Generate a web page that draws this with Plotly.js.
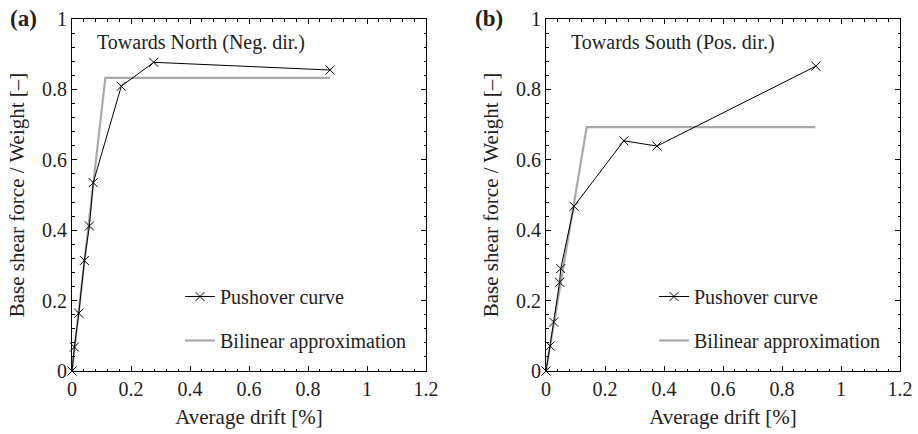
<!DOCTYPE html>
<html>
<head>
<meta charset="utf-8">
<script src="https://cdn.plot.ly/plotly-3.0.1.min.js"></script>
<style>
  html, body { margin: 0; padding: 0; background: #fff; }
  #chart { width: 918px; height: 434px; }
</style>
</head>
<body>
<div id="chart"></div>
<script>
// Pushover curve, towards North (negative direction)
const northDrift = [0, 0.008, 0.023, 0.042, 0.059, 0.072, 0.167, 0.277, 0.875];
const northShear = [0, 0.068, 0.164, 0.314, 0.412, 0.535, 0.809, 0.877, 0.855];
// Bilinear approximation, North
const northBiDrift = [0, 0.113, 0.875];
const northBiShear = [0, 0.833, 0.833];

// Pushover curve, towards South (positive direction)
const southDrift = [0, 0.014, 0.026, 0.046, 0.050, 0.095, 0.264, 0.376, 0.915];
const southShear = [0, 0.071, 0.139, 0.252, 0.291, 0.468, 0.654, 0.639, 0.866];
// Bilinear approximation, South
const southBiDrift = [0, 0.138, 0.913];
const southBiShear = [0, 0.693, 0.693];

const xTickVals = [0, 0.2, 0.4, 0.6, 0.8, 1, 1.2];
const yTickVals = [0, 0.2, 0.4, 0.6, 0.8, 1];

const FONT = 'Liberation Serif';
const GRAY = '#a9a9a9';

function pushTrace(x, y, xa, ya, lg) {
  return {
    x: x, y: y, xaxis: xa, yaxis: ya, type: 'scatter', mode: 'lines+markers',
    name: 'Pushover curve', legend: lg, legendgroup: 'p', legendrank: 1,
    line: { color: '#000', width: 1 },
    marker: { symbol: 'x-thin-open', size: 9, color: '#000', line: { color: '#000', width: 1 } },
    cliponaxis: false
  };
}
function biTrace(x, y, xa, ya, lg) {
  return {
    x: x, y: y, xaxis: xa, yaxis: ya, type: 'scatter', mode: 'lines',
    name: 'Bilinear approximation', legend: lg, legendgroup: 'b', legendrank: 2,
    line: { color: GRAY, width: 2.2 }
  };
}

// bilinear lines first so the pushover curve sits on top
const traces = [
  biTrace(northBiDrift, northBiShear, 'x', 'y', 'legend'),
  pushTrace(northDrift, northShear, 'x', 'y', 'legend'),
  biTrace(southBiDrift, southBiShear, 'x2', 'y2', 'legend2'),
  pushTrace(southDrift, southShear, 'x2', 'y2', 'legend2')
];

function xAxis(domain, anchor) {
  return {
    domain: domain, anchor: anchor, range: [0, 1.2],
    tickvals: xTickVals, ticks: 'inside', ticklen: 5, tickwidth: 1, tickcolor: '#000',
    minor: { dtick: 0.04, tick0: 0, ticks: 'inside', ticklen: 2.5, tickcolor: '#000', tickwidth: 1 },
    showline: true, linecolor: '#000', linewidth: 1, mirror: 'ticks',
    showgrid: false, zeroline: false,
    tickfont: { family: FONT, size: 20, color: '#222' },
    title: { text: 'Average drift [%]', font: { family: FONT, size: 21, color: '#222' }, standoff: 10 }
  };
}
function yAxis(domain, anchor) {
  return {
    domain: domain, anchor: anchor, range: [0, 1],
    tickvals: yTickVals, ticks: 'inside', ticklen: 5, tickwidth: 1, tickcolor: '#000',
    minor: { dtick: 0.04, tick0: 0, ticks: 'inside', ticklen: 2.5, tickcolor: '#000', tickwidth: 1 },
    showline: true, linecolor: '#000', linewidth: 1, mirror: 'ticks',
    showgrid: false, zeroline: false,
    tickfont: { family: FONT, size: 20, color: '#222' },
    title: { text: 'Base shear force / Weight [–]', font: { family: FONT, size: 21, color: '#222' }, standoff: 11 }
  };
}

const yDom = [63 / 434, 415 / 434];

function legendBox(x) {
  return {
    x: x, y: 1 - 277 / 434, xanchor: 'left', yanchor: 'top',
    bgcolor: 'rgba(0,0,0,0)', borderwidth: 0,
    font: { family: FONT, size: 20, color: '#222' },
    tracegroupgap: 15, traceorder: 'grouped', itemwidth: 30
  };
}

const layout = {
  width: 918, height: 434,
  margin: { l: 0, r: 0, t: 0, b: 0 },
  paper_bgcolor: '#fff', plot_bgcolor: '#fff',
  showlegend: true,
  font: { family: FONT },
  xaxis: xAxis([72 / 918, 426 / 918], 'y'),
  yaxis: yAxis(yDom, 'x'),
  xaxis2: xAxis([546 / 918, 900 / 918], 'y2'),
  yaxis2: yAxis(yDom, 'x2'),
  legend: legendBox(180 / 918),
  legend2: legendBox(654 / 918),
  annotations: [
    { text: '<b>(a)</b>', xref: 'paper', yref: 'paper', x: 8 / 918, y: 1 - 18 / 434,
      xanchor: 'left', yanchor: 'middle', showarrow: false,
      font: { family: FONT, size: 23, color: '#222' } },
    { text: '<b>(b)</b>', xref: 'paper', yref: 'paper', x: 473 / 918, y: 1 - 18 / 434,
      xanchor: 'left', yanchor: 'middle', showarrow: false,
      font: { family: FONT, size: 23, color: '#222' } },
    { text: 'Towards North (Neg. dir.)', xref: 'x domain', yref: 'y domain',
      x: 23 / 354, y: 1 - 24 / 352, xanchor: 'left', yanchor: 'middle', showarrow: false,
      font: { family: FONT, size: 20, color: '#222' } },
    { text: 'Towards South (Pos. dir.)', xref: 'x2 domain', yref: 'y2 domain',
      x: 23 / 354, y: 1 - 24 / 352, xanchor: 'left', yanchor: 'middle', showarrow: false,
      font: { family: FONT, size: 20, color: '#222' } }
  ]
};

Plotly.newPlot('chart', traces, layout, { staticPlot: true, displayModeBar: false });
</script>
</body>
</html>
